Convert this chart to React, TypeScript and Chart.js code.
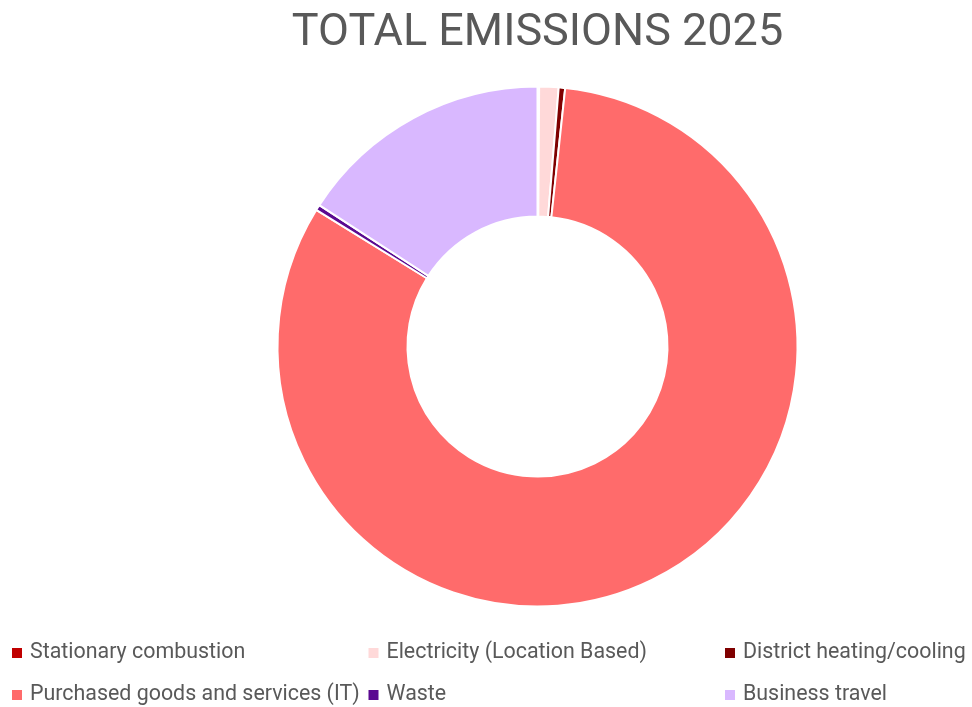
import { useEffect, useRef } from "react";
import { Chart, registerables } from "chart.js";

Chart.register(...registerables);

const categories = [
  "Stationary combustion",
  "Electricity (Location Based)",
  "District heating/cooling",
  "Purchased goods and services (IT)",
  "Waste",
  "Business travel",
];
const shares = [0.1, 1.2, 0.4, 82.1, 0.35, 15.85];
const colors = ["#C00000", "#FFD9D9", "#7F0000", "#FF6B6B", "#5B0A91", "#D9B8FF"];
const titleText = "TOTAL EMISSIONS 2025";

const FONT = "Roboto";

const gridLegend = {
  id: "gridLegend",
  afterDraw(chart: any) {
    const ctx = chart.ctx as CanvasRenderingContext2D;
    const labels = chart.data.labels as string[];
    const bg = chart.data.datasets[0].backgroundColor as string[];
    const cols = [12, 368.5, 725];
    const baselines = [658, 700];
    ctx.save();
    ctx.font = `21.4px ${FONT}`;
    ctx.textBaseline = "alphabetic";
    ctx.textAlign = "left";
    labels.forEach((label, i) => {
      const x = cols[i % 3];
      const y = baselines[Math.floor(i / 3)];
      ctx.fillStyle = bg[i];
      ctx.fillRect(x, y - 10, 10, 10);
      ctx.fillStyle = "#595959";
      ctx.fillText(label, x + 18, y);
    });
    ctx.restore();
  },
};

export default function App() {
  const ref = useRef<HTMLCanvasElement | null>(null);
  useEffect(() => {
    document.body.style.margin = "0";
    const canvas = ref.current;
    if (!canvas) return;
    const chart = new Chart(canvas, {
      type: "doughnut",
      data: {
        labels: categories,
        datasets: [
          {
            data: shares,
            backgroundColor: colors,
            borderColor: "#ffffff",
            borderWidth: 2,
            hoverOffset: 0,
          },
        ],
      },
      options: {
        responsive: false,
        animation: false,
        cutout: "50%",
        layout: { padding: { left: 103, right: 0, top: 0, bottom: 99.5 } },
        plugins: {
          legend: { display: false },
          tooltip: { enabled: false },
          title: {
            display: true,
            text: titleText,
            color: "#595959",
            font: { size: 45, family: FONT, weight: "normal" },
            padding: { top: 7, bottom: 24.5 },
          },
        },
      },
      plugins: [gridLegend],
    });
    return () => chart.destroy();
  }, []);
  return (
    <div style={{ width: 972, height: 707 }}>
      <canvas ref={ref} width={972} height={707} />
    </div>
  );
}
